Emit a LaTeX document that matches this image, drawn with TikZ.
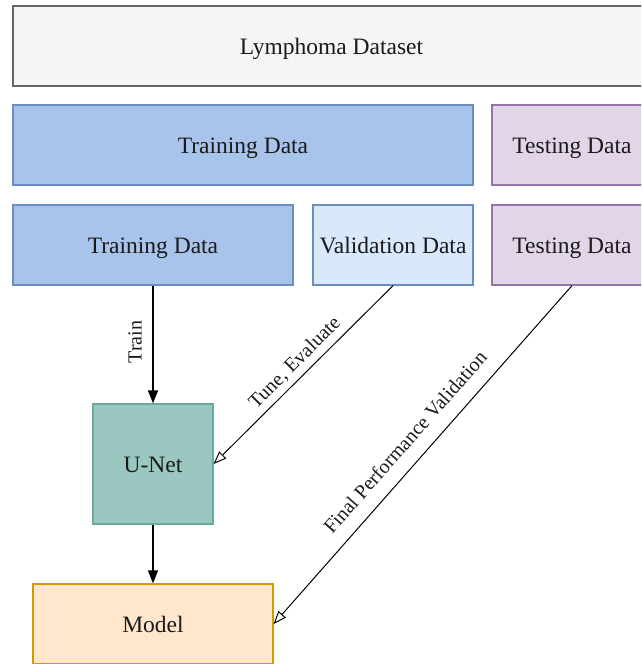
\documentclass[tikz,border=0pt]{standalone}
\usepackage{fontspec}
\setmainfont{Liberation Serif}
\usetikzlibrary{arrows.meta}
\definecolor{dsfill}{HTML}{F5F5F5}\definecolor{dsline}{HTML}{666666}
\definecolor{trfill}{HTML}{A9C4EB}\definecolor{trline}{HTML}{6C8EBF}
\definecolor{vafill}{HTML}{DAE8FC}
\definecolor{tefill}{HTML}{E1D5E7}\definecolor{teline}{HTML}{9673A6}
\definecolor{unfill}{HTML}{9AC7BF}\definecolor{unline}{HTML}{67AB9F}
\definecolor{mofill}{HTML}{FFE6CC}\definecolor{moline}{HTML}{D79B00}
\definecolor{txt}{HTML}{1A1A1A}
\tikzset{
  box/.style={draw, line width=1.2pt, rectangle, inner sep=0pt, text=txt,
    font=\fontsize{23.5}{27}\selectfont, text height=20pt, text depth=4pt},
  lbl/.style={text=txt, font=\fontsize{20}{23}\selectfont, inner sep=0pt},
  solidarrow/.style={draw, line width=1.2pt, -{Triangle[length=13pt,width=10pt]}},
  openarrow/.style={draw, line width=1.0pt, -{Triangle[open,length=13pt,width=10pt,fill=white]}},
}
\begin{document}
\begin{tikzpicture}[x=1pt,y=-1pt]
\useasboundingbox (0,0) rectangle (641,664);
\clip (0,0) rectangle (641,664);
\node[box, fill=dsfill, draw=dsline, minimum width=637pt, minimum height=80pt] (ds) at (331.5,46) {Lymphoma Dataset};
\node[box, fill=trfill, draw=trline, minimum width=460pt, minimum height=80pt] (tr1) at (243,145) {Training Data};
\node[box, fill=tefill, draw=teline, minimum width=160pt, minimum height=80pt] (te1) at (572,145) {Testing Data};
\node[box, fill=trfill, draw=trline, minimum width=280pt, minimum height=80pt] (tr2) at (153,245) {Training Data};
\node[box, fill=vafill, draw=trline, minimum width=160pt, minimum height=80pt] (va) at (393,245) {Validation Data};
\node[box, fill=tefill, draw=teline, minimum width=160pt, minimum height=80pt] (te2) at (572,245) {Testing Data};
\node[box, fill=unfill, draw=unline, minimum width=120pt, minimum height=120pt] (un) at (153,464) {U-Net};
\node[box, fill=mofill, draw=moline, minimum width=240pt, minimum height=80pt] (mo) at (153,624) {Model};
\draw[solidarrow] (tr2.south) -- (un.north);
\draw[solidarrow] (un.south) -- (mo.north);
\draw[openarrow] (va.south) -- (un.east);
\draw[openarrow] (te2.south) -- (mo.east);
\node[lbl, rotate=90] (ltrain) at (135,342) {Train};
\node[lbl, rotate=45] (ltune) at (295,363) {Tune, Evaluate};
\node[lbl, rotate=48.6] (lfinal) at (405,442) {Final Performance Validation};
\end{tikzpicture}
\end{document}
